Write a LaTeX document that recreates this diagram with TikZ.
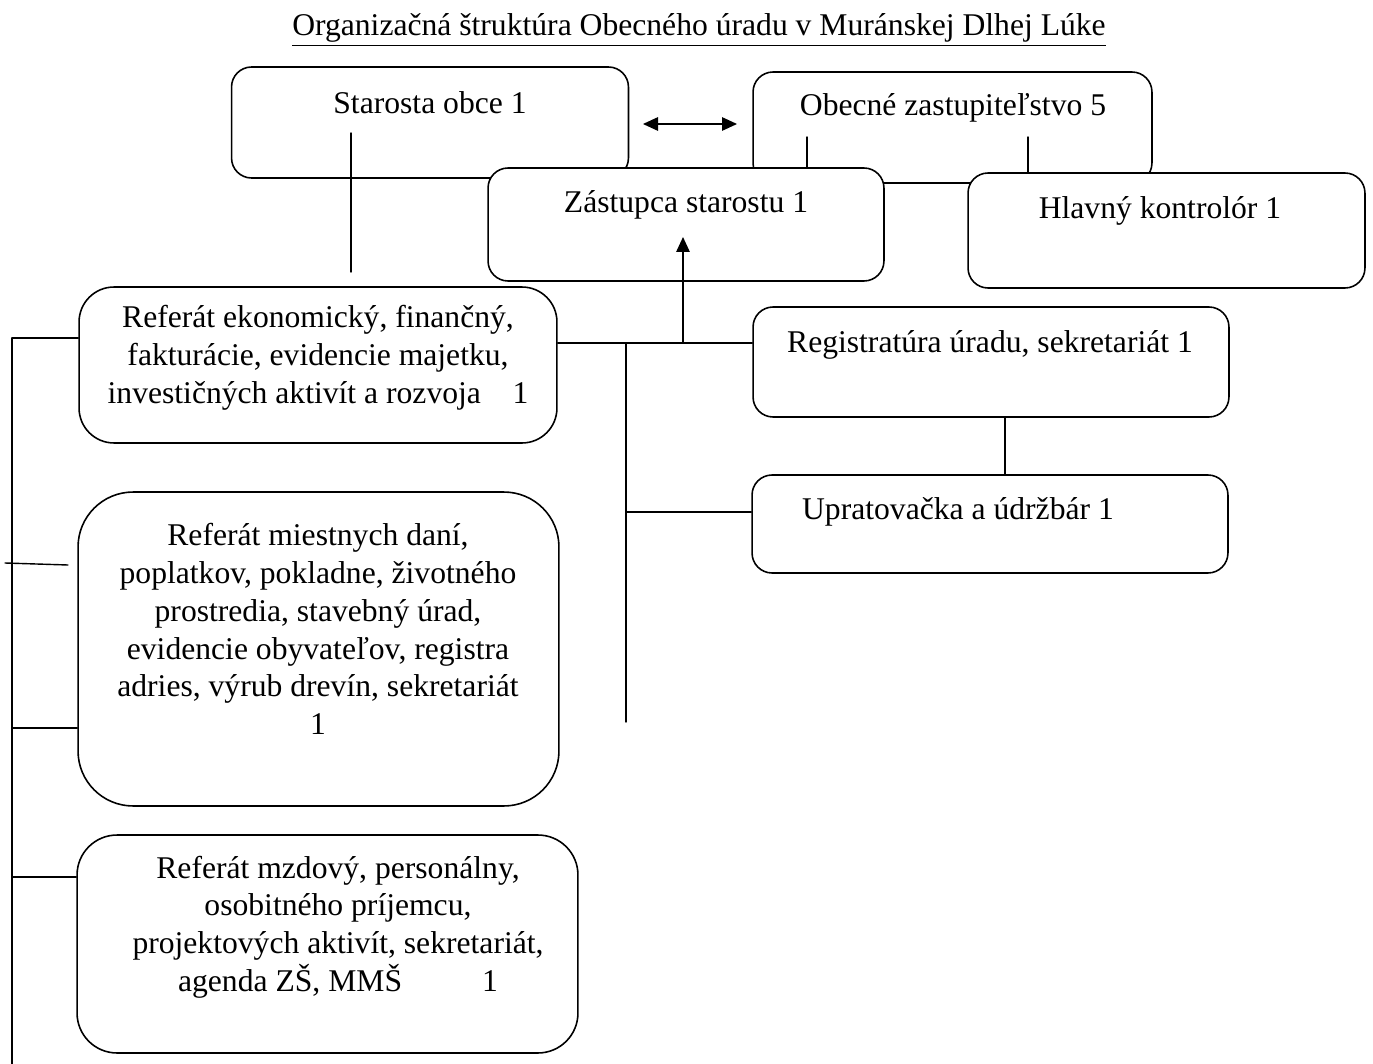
\documentclass[tikz,border=0pt]{standalone}
\usepackage{fontspec}
\setmainfont{Liberation Serif}
\usetikzlibrary{arrows.meta,positioning}
\begin{document}
\begin{tikzpicture}[x=0.02cm,y=-0.02cm,line join=round,line cap=round,
	font=\fontsize{18}{21.5}\selectfont,>={Triangle[length=0.3cm,width=0.27cm]},
	box/.style={draw,fill=white,line width=0.9pt,rounded corners=0.4cm,inner sep=0pt},
	txt/.style={align=center,inner sep=0pt},
	conn/.style={line width=0.8pt}]
	\fill[white] (0,0) rectangle (1373,1064);
	\useasboundingbox (0,0) rectangle (1373,1064);
	\node[txt] (title) at (699,30) {\underline{Organizačná štruktúra Obecného úradu v Muránskej Dlhej Lúke}};
	% vedenie obce
	\node[box,minimum width=7.94cm,minimum height=2.22cm] (star) at (430,122.5) {};
	\node[box,minimum width=7.98cm,minimum height=2.22cm] (obec) at (952.5,127.5) {};
	\node[box,minimum width=7.92cm,minimum height=2.26cm] (zast) at (686,224.5) {};
	\node[box,minimum width=7.94cm,minimum height=2.30cm] (hlav) at (1166.5,230.5) {};
	\node[txt] (starT) at (430,103) {Starosta obce 1};
	\node[txt] (obecT) at (953,108) {Obecné zastupiteľstvo 5};
	\node[txt] (zastT) at (686,205) {Zástupca starostu 1};
	\node[txt] (hlavT) at (1160,211) {Hlavný kontrolór 1};
	% referaty
	\node[box,rounded corners=0.7cm,minimum width=9.56cm,minimum height=3.12cm] (ekon) at (318,365) {};
	\node[box,rounded corners=1.1cm,minimum width=9.62cm,minimum height=6.28cm] (mies) at (318.5,649) {};
	\node[box,rounded corners=0.8cm,minimum width=10.02cm,minimum height=4.36cm] (mzd) at (327.5,944) {};
	\node[box,minimum width=9.52cm,minimum height=2.20cm] (reg) at (991,362) {};
	\node[box,minimum width=9.52cm,minimum height=1.96cm] (upr) at (990,524) {};
	\node[txt] (ekonT) at (318,358) {Referát ekonomický, finančný,\\fakturácie, evidencie majetku,\\investičných aktivít a rozvoja\quad 1};
	\node[txt] (miesT) at (318,629) {Referát miestnych daní,\\poplatkov, pokladne, životného\\prostredia, stavebný úrad,\\evidencie obyvateľov, registra\\adries, výrub drevín, sekretariát\\1};
	\node[txt] (mzdT) at (338,927) {Referát mzdový, personálny,\\osobitného príjemcu,\\projektových aktivít, sekretariát,\\agenda ZŠ, MMŠ\hspace{1.6cm}1};
	\node[txt] (regT) at (990,345) {Registratúra úradu, sekretariát 1};
	\node[txt] (uprT) at (958,512) {Upratovačka a údržbár 1};
	% spojnice
	\coordinate (s1) at (351,133);
	\draw[conn] (s1) -- ++(0,139);
	\coordinate (a1) at (643,124);
	\coordinate (a2) at (737,124);
	\draw[conn,<->] (a1) -- (a2);
	\draw[conn] (807,137) -- (zast.north -| 807,0);
	\draw[conn] (1028,137) -- (hlav.north -| 1028,0);
	\coordinate (busR) at (626,343);
	\coordinate (up) at (683,343);
	\draw[conn] (busR -| ekon.east) -- (busR -| reg.west);
	\draw[conn,->] (up) -- (683,237);
	\draw[conn] (busR) -- (626,722);
	\draw[conn] (626,512) -- (upr.west |- 0,512);
	\draw[conn] (reg.south -| 1005,0) -- (upr.north -| 1005,0);
	\coordinate (busL) at (12,338);
	\draw[conn] (busL) -- (12,1064);
	\draw[conn] (busL) -- (busL -| ekon.west);
	\draw[conn] (5,563) -- (68,565);
	\draw[conn] (12,728) -- (mies.west |- 0,728);
	\draw[conn] (12,877) -- (mzd.west |- 0,877);
\end{tikzpicture}
\end{document}
